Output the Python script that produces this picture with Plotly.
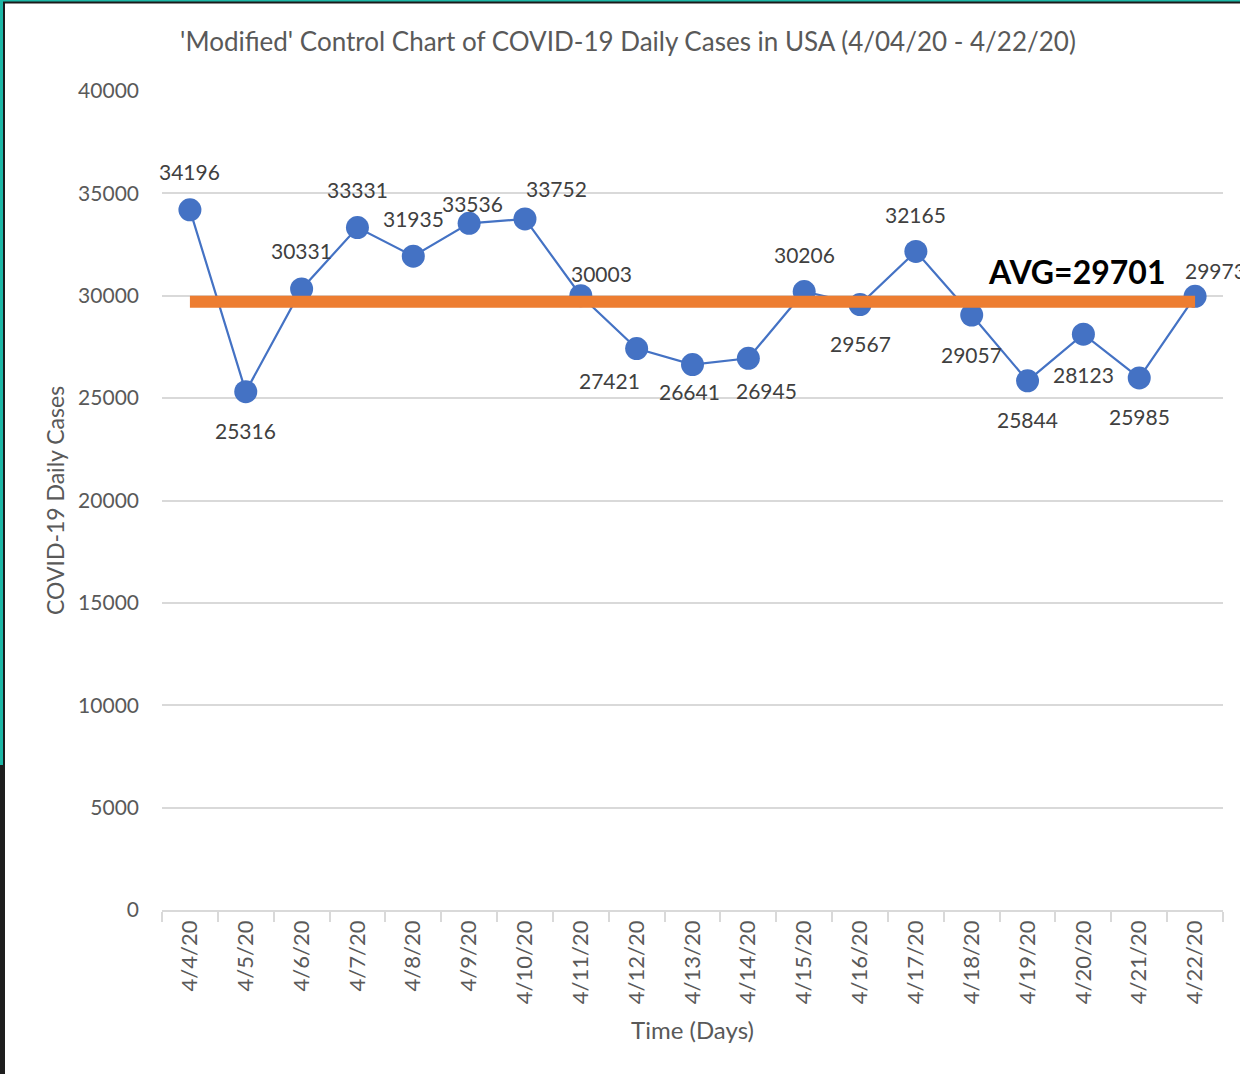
import plotly.graph_objects as go

dates = ["4/4/20", "4/5/20", "4/6/20", "4/7/20", "4/8/20", "4/9/20", "4/10/20",
         "4/11/20", "4/12/20", "4/13/20", "4/14/20", "4/15/20", "4/16/20",
         "4/17/20", "4/18/20", "4/19/20", "4/20/20", "4/21/20", "4/22/20"]
cases = [34196, 25316, 30331, 33331, 31935, 33536, 33752, 30003, 27421, 26641,
         26945, 30206, 29567, 32165, 29057, 25844, 28123, 25985, 29973]
avg_value = 29701
y_ticks = [0, 5000, 10000, 15000, 20000, 25000, 30000, 35000, 40000]

# label offsets (pixels) relative to each point
label_dx = [0, 0, 0, 0, 0, 3, 32, 21, -27, -3, 18, 0, 0, 0, 0, 0, 0, 0, 20]
label_dy = [38, -39, 38, 38, 38, 20, 30, 22, -32, -27, -32, 37, -39, 37, -39, -39, -40, -39, 26]

FONT = "Lato"
GRAY = "#595959"
BLUE = "#4472C4"
ORANGE = "#ED7D31"

fig = go.Figure()
fig.add_trace(go.Scatter(
    x=dates, y=cases, mode="lines+markers",
    line=dict(color=BLUE, width=2.2),
    marker=dict(color=BLUE, size=23),
    hoverinfo="x+y", showlegend=False,
))
fig.add_trace(go.Scatter(
    x=[dates[0], dates[-1]], y=[avg_value, avg_value], mode="lines",
    line=dict(color=ORANGE, width=12),
    showlegend=False, hoverinfo="y",
))

annotations = []
for d, v, dx, dy in zip(dates, cases, label_dx, label_dy):
    annotations.append(dict(
        x=d, y=v, text=str(v), showarrow=False, xshift=dx, yshift=dy,
        font=dict(family=FONT, size=21, color="#404040"),
    ))
annotations.append(dict(
    x=dates[16], y=avg_value, text="<b>AVG=" + str(avg_value) + "</b>",
    showarrow=False, xshift=-7, yshift=30,
    font=dict(family=FONT, size=32, color="#000000"),
))

W, H = 1240, 1074
L, R, T, B = 162, 17, 91, 164
pw, ph = W - L - R, H - T - B

def px_x(p):
    return (p - L) / pw

def px_y(p):
    return (H - B - p) / ph

shapes = [
    dict(type="rect", xref="paper", yref="paper", x0=px_x(0), x1=px_x(W), y0=px_y(0), y1=px_y(2),
         fillcolor="#1DB7A6", line_width=0, layer="above"),
    dict(type="line", xref="paper", yref="paper", x0=px_x(3), x1=px_x(W), y0=px_y(2.5), y1=px_y(2.5),
         line=dict(color="#1a1a1a", width=2), layer="above"),
    dict(type="rect", xref="paper", yref="paper", x0=px_x(0), x1=px_x(3), y0=px_y(0), y1=px_y(765),
         fillcolor="#1DB7A6", line_width=0, layer="above"),
    dict(type="rect", xref="paper", yref="paper", x0=px_x(0), x1=px_x(5), y0=px_y(765), y1=px_y(H),
         fillcolor="#1e1e1e", line_width=0, layer="above"),
    dict(type="line", xref="paper", yref="paper", x0=px_x(4), x1=px_x(4), y0=px_y(2), y1=px_y(765),
         line=dict(color="#1a1a1a", width=2), layer="above"),
]

fig.update_layout(
    width=W, height=H,
    margin=dict(l=L, r=R, t=T, b=B, autoexpand=False),
    paper_bgcolor="white", plot_bgcolor="white",
    font=dict(family=FONT, color=GRAY),
    title=dict(
        text="'Modified' Control Chart of COVID-19 Daily Cases in USA (4/04/20 - 4/22/20)",
        x=628 / W, xanchor="center", y=1 - 42 / H, yanchor="middle",
        font=dict(family=FONT, size=26, color=GRAY),
    ),
    xaxis=dict(
        type="category", range=[-0.5, 18.5],
        showgrid=False, showline=True, linecolor="#d9d9d9", linewidth=1.5,
        ticks="outside", tickson="boundaries", ticklen=10, tickcolor="#d9d9d9", tickwidth=1.5,
        tickangle=-90, tickfont=dict(family=FONT, size=22, color=GRAY),
        title=dict(text="Time (Days)", font=dict(family=FONT, size=24, color=GRAY), standoff=19),
        zeroline=False, fixedrange=True,
    ),
    yaxis=dict(
        range=[0, 40000], tickvals=y_ticks, ticktext=[str(t) for t in y_ticks],
        showgrid=True, gridcolor="#d9d9d9", gridwidth=1.5, zeroline=False,
        showline=False, ticks="", ticklabelstandoff=22,
        tickfont=dict(family=FONT, size=21, color=GRAY),
        title=dict(text="COVID-19 Daily Cases", font=dict(family=FONT, size=23, color=GRAY), standoff=7),
        fixedrange=True,
    ),
    annotations=annotations,
    shapes=shapes,
)

fig.write_html("out.html", config={"displayModeBar": False},
               post_script="document.body.style.margin='0';document.body.style.overflow='hidden';")
